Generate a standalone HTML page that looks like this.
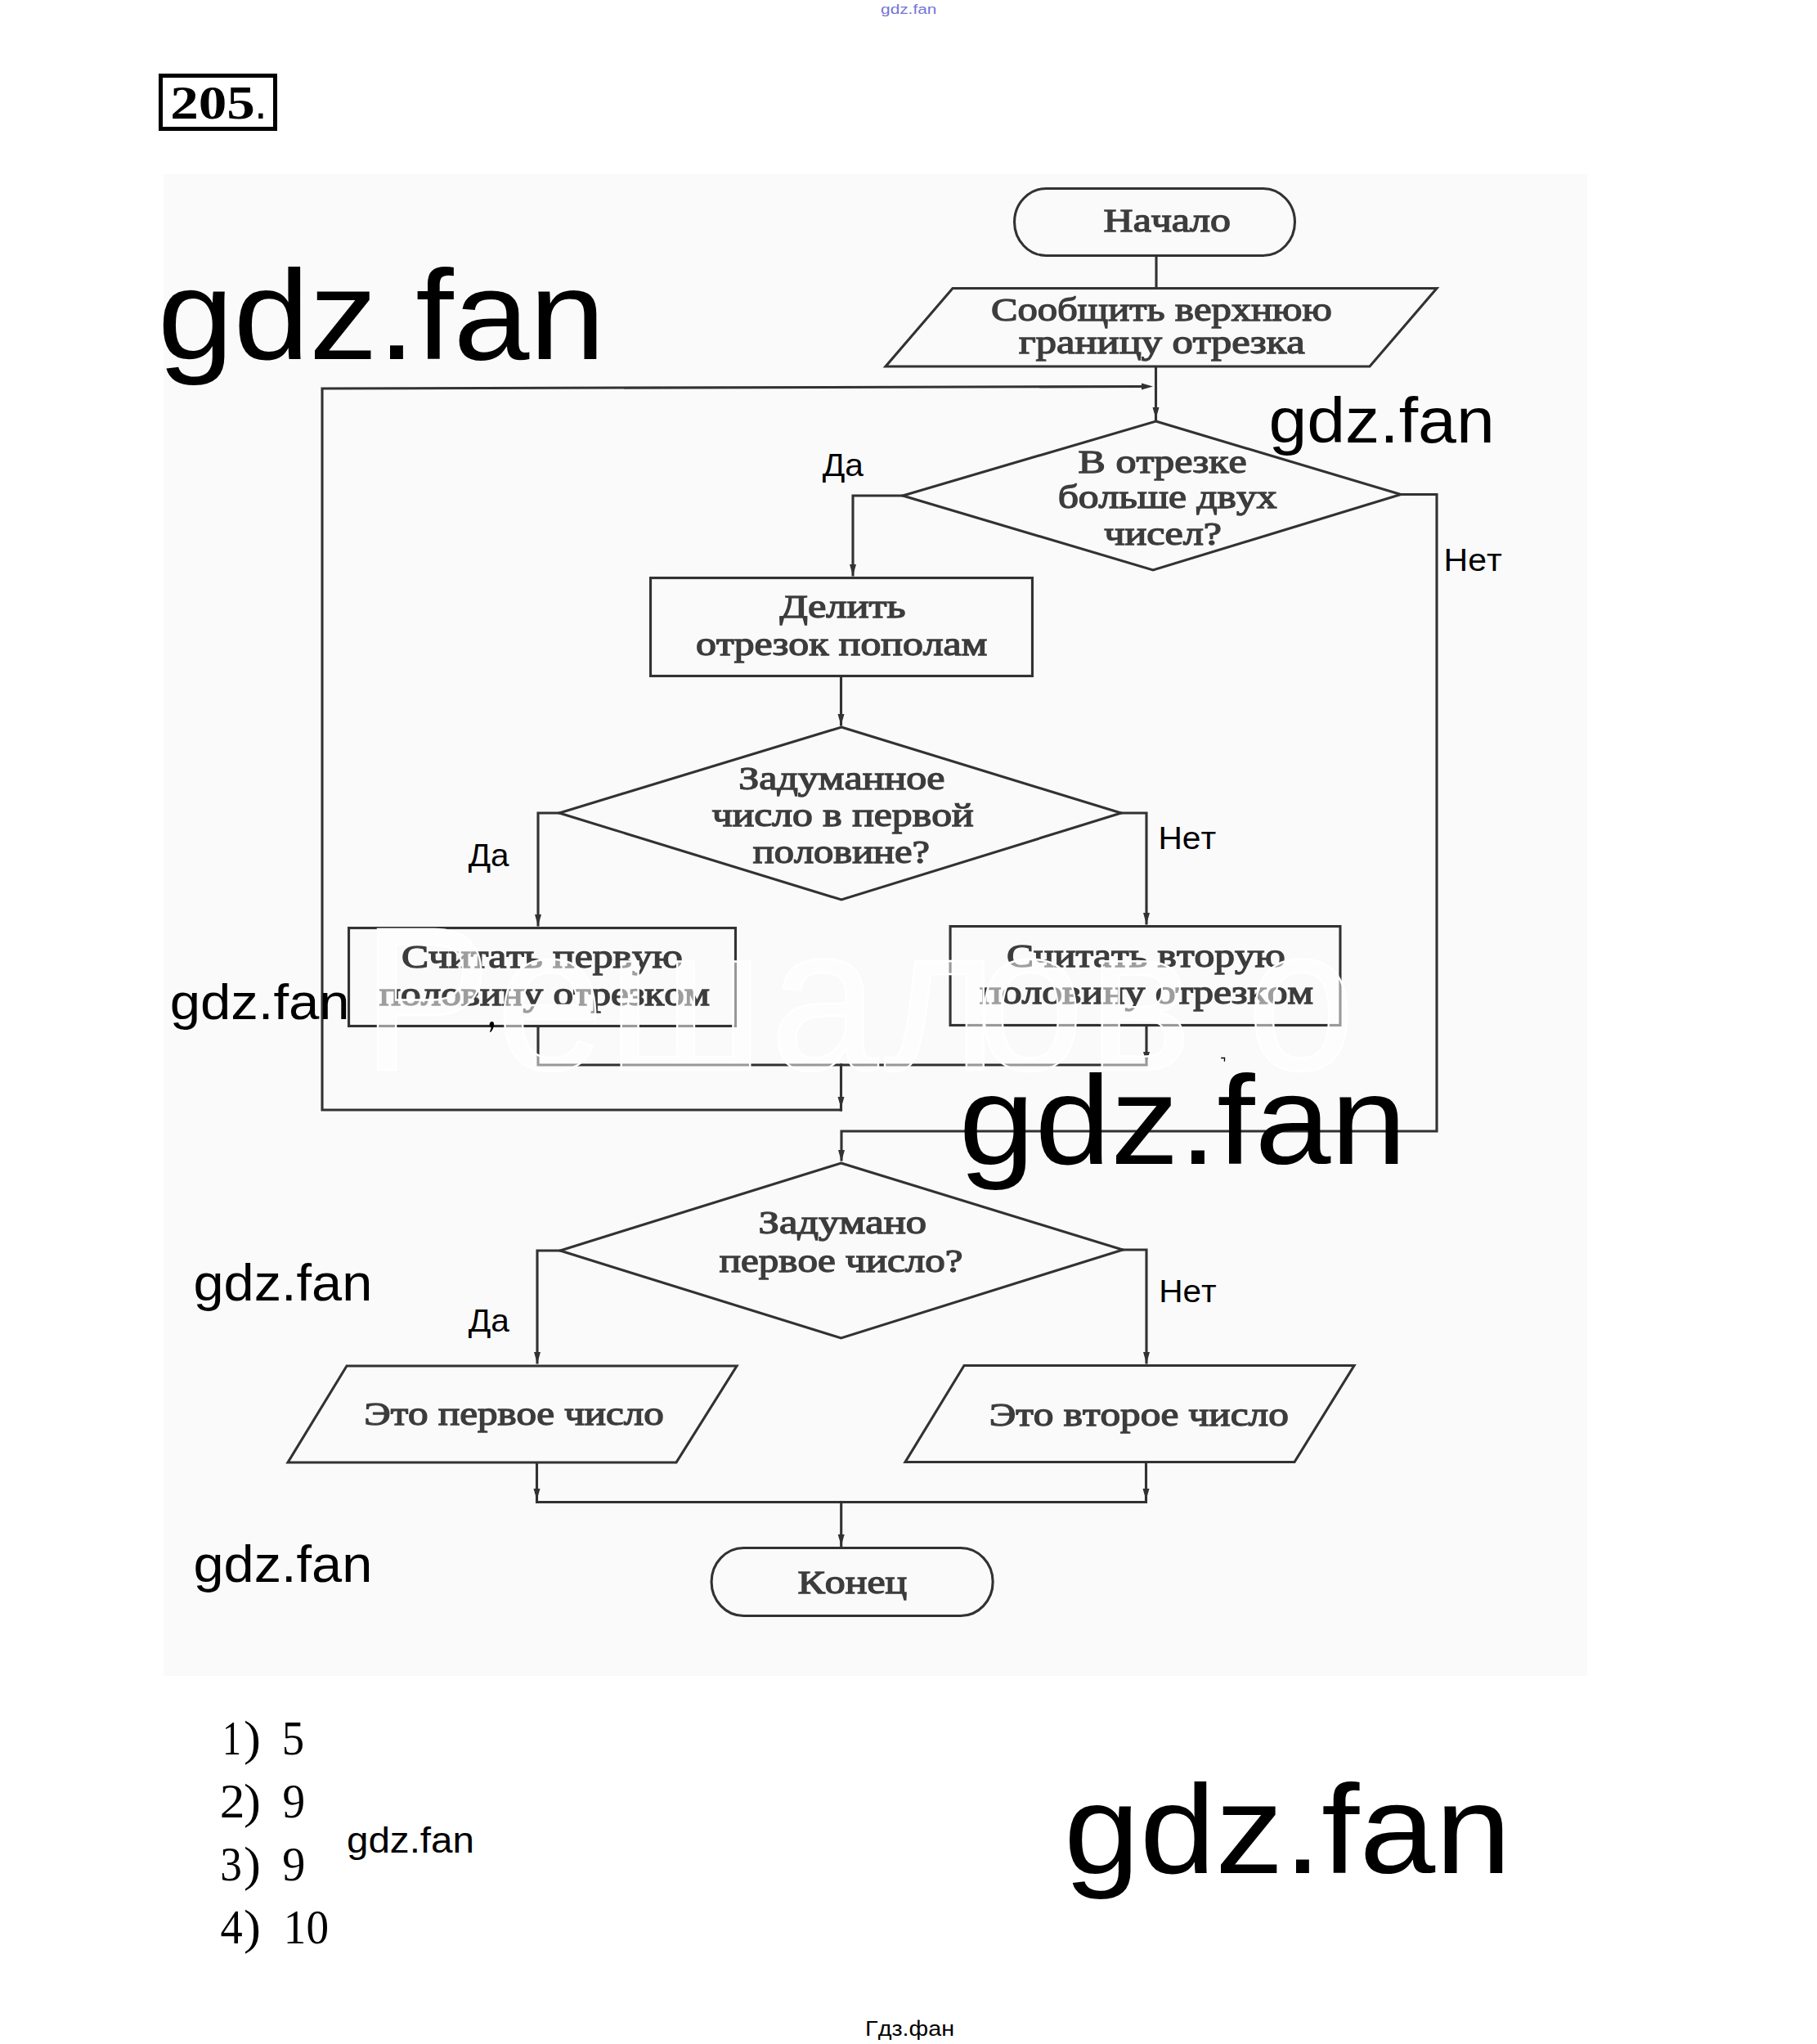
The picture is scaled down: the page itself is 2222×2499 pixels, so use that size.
<!DOCTYPE html>
<html><head><meta charset="utf-8"><style>
html,body{margin:0;padding:0;background:#fff;}
svg{display:block;}
text{font-kerning:none;}
</style></head><body>
<svg width="2222" height="2499" viewBox="0 0 2222 2499">
<defs><filter id="scan" filterUnits="userSpaceOnUse" x="0" y="0" width="2222" height="2499"><feGaussianBlur stdDeviation="0.7"/></filter></defs>
<rect width="2222" height="2499" fill="#fff"/>
<rect x="200" y="213" width="1741" height="1836" fill="#fafafa"/>
<g filter="url(#scan)">
<rect x="1240.55" y="230.55" width="342.9000000000001" height="81.89999999999998" rx="38.90249999999999" ry="40.94999999999999" fill="none" stroke="#303030" stroke-width="3.1"/>
<text x="1349.63" y="283.00" font-family='"Liberation Serif"' font-weight="normal" font-size="40.00" textLength="155.21" lengthAdjust="spacingAndGlyphs" fill="#3c3c3c" stroke="#3c3c3c" stroke-width="1.3">Начало</text>
<path d="M1414,314 L1414,351" fill="none" stroke="#303030" stroke-width="3.1" stroke-linejoin="miter" stroke-linecap="square"/>
<path d="M1165,352.5 L1757,352.5 L1675,448 L1083,448 Z" fill="none" stroke="#303030" stroke-width="3.1" stroke-linejoin="miter"/>
<text x="1212.05" y="392.00" font-family='"Liberation Serif"' font-weight="normal" font-size="40.00" textLength="416.74" lengthAdjust="spacingAndGlyphs" fill="#3c3c3c" stroke="#3c3c3c" stroke-width="1.3">Сообщить верхнюю</text>
<text x="1246.12" y="432.00" font-family='"Liberation Serif"' font-weight="normal" font-size="40.00" textLength="349.52" lengthAdjust="spacingAndGlyphs" fill="#3c3c3c" stroke="#3c3c3c" stroke-width="1.3">границу отрезка</text>
<path d="M1413.5,449 L1413.5,513" fill="none" stroke="#303030" stroke-width="3.1" stroke-linejoin="miter" stroke-linecap="square"/>
<path d="M1409.5,498 L1417.5,498 L1413.5,512 Z" fill="#303030"/>
<path d="M1028.5,1357 L394,1357 L394,475 L1400,472.5" fill="none" stroke="#303030" stroke-width="3.1" stroke-linejoin="miter" stroke-linecap="square"/>
<path d="M1396,468.5 L1396,476.5 L1410,472.5 Z" fill="#303030"/>
<path d="M1413.5,515 L1713,604.5 L1410,697 L1104,606 Z" fill="none" stroke="#303030" stroke-width="3.1" stroke-linejoin="miter"/>
<text x="1318.63" y="578.00" font-family='"Liberation Serif"' font-weight="normal" font-size="40.00" textLength="206.01" lengthAdjust="spacingAndGlyphs" fill="#3c3c3c" stroke="#3c3c3c" stroke-width="1.3">В отрезке</text>
<text x="1293.65" y="621.00" font-family='"Liberation Serif"' font-weight="normal" font-size="40.00" textLength="267.91" lengthAdjust="spacingAndGlyphs" fill="#3c3c3c" stroke="#3c3c3c" stroke-width="1.3">больше двух</text>
<text x="1350.25" y="666.00" font-family='"Liberation Serif"' font-weight="normal" font-size="40.00" textLength="143.82" lengthAdjust="spacingAndGlyphs" fill="#3c3c3c" stroke="#3c3c3c" stroke-width="1.3">чисел?</text>
<path d="M1104,606 L1043,606 L1043,703" fill="none" stroke="#303030" stroke-width="3.1" stroke-linejoin="miter" stroke-linecap="square"/>
<path d="M1039.0,690 L1047.0,690 L1043,704 Z" fill="#303030"/>
<path d="M1713,604.5 L1757,604.5 L1757,1383 L1029,1383 L1029,1418" fill="none" stroke="#303030" stroke-width="3.1" stroke-linejoin="miter" stroke-linecap="square"/>
<path d="M1025.0,1406 L1033.0,1406 L1029,1420 Z" fill="#303030"/>
<rect x="795.55" y="706.55" width="466.9" height="119.9" fill="none" stroke="#303030" stroke-width="3.1"/>
<text x="953.62" y="755.00" font-family='"Liberation Serif"' font-weight="normal" font-size="40.00" textLength="153.93" lengthAdjust="spacingAndGlyphs" fill="#3c3c3c" stroke="#3c3c3c" stroke-width="1.3">Делить</text>
<text x="851.13" y="801.00" font-family='"Liberation Serif"' font-weight="normal" font-size="40.00" textLength="356.00" lengthAdjust="spacingAndGlyphs" fill="#3c3c3c" stroke="#3c3c3c" stroke-width="1.3">отрезок пополам</text>
<path d="M1028.5,828 L1028.5,886" fill="none" stroke="#303030" stroke-width="3.1" stroke-linejoin="miter" stroke-linecap="square"/>
<path d="M1024.5,873 L1032.5,873 L1028.5,887 Z" fill="#303030"/>
<path d="M1029,889 L1371,994 L1029,1100 L684,994 Z" fill="none" stroke="#303030" stroke-width="3.1" stroke-linejoin="miter"/>
<text x="903.23" y="965.00" font-family='"Liberation Serif"' font-weight="normal" font-size="40.00" textLength="252.10" lengthAdjust="spacingAndGlyphs" fill="#3c3c3c" stroke="#3c3c3c" stroke-width="1.3">Задуманное</text>
<text x="870.65" y="1010.00" font-family='"Liberation Serif"' font-weight="normal" font-size="40.00" textLength="319.94" lengthAdjust="spacingAndGlyphs" fill="#3c3c3c" stroke="#3c3c3c" stroke-width="1.3">число в первой</text>
<text x="920.75" y="1055.00" font-family='"Liberation Serif"' font-weight="normal" font-size="40.00" textLength="216.28" lengthAdjust="spacingAndGlyphs" fill="#3c3c3c" stroke="#3c3c3c" stroke-width="1.3">половине?</text>
<path d="M684,994 L658,994 L658,1131" fill="none" stroke="#303030" stroke-width="3.1" stroke-linejoin="miter" stroke-linecap="square"/>
<path d="M654.0,1118 L662.0,1118 L658,1132 Z" fill="#303030"/>
<path d="M1371,994 L1402,994 L1402,1129" fill="none" stroke="#303030" stroke-width="3.1" stroke-linejoin="miter" stroke-linecap="square"/>
<path d="M1398.0,1116 L1406.0,1116 L1402,1130 Z" fill="#303030"/>
<rect x="426.55" y="1134.55" width="472.9" height="119.9" fill="none" stroke="#303030" stroke-width="3.1"/>
<text x="491.01" y="1182.50" font-family='"Liberation Serif"' font-weight="normal" font-size="40.00" textLength="343.84" lengthAdjust="spacingAndGlyphs" fill="#3c3c3c" stroke="#3c3c3c" stroke-width="1.3">Считать первую</text>
<text x="463.74" y="1229.00" font-family='"Liberation Serif"' font-weight="normal" font-size="40.00" textLength="404.23" lengthAdjust="spacingAndGlyphs" fill="#3c3c3c" stroke="#3c3c3c" stroke-width="1.3">половину отрезком</text>
<rect x="1162.05" y="1132.55" width="476.9" height="120.9" fill="none" stroke="#303030" stroke-width="3.1"/>
<text x="1231.02" y="1182.00" font-family='"Liberation Serif"' font-weight="normal" font-size="40.00" textLength="340.85" lengthAdjust="spacingAndGlyphs" fill="#3c3c3c" stroke="#3c3c3c" stroke-width="1.3">Считать вторую</text>
<text x="1198.13" y="1227.00" font-family='"Liberation Serif"' font-weight="normal" font-size="40.00" textLength="407.75" lengthAdjust="spacingAndGlyphs" fill="#3c3c3c" stroke="#3c3c3c" stroke-width="1.3">половину отрезком</text>
<path d="M658,1256 L658,1302 L1402,1302 L1402,1255" fill="none" stroke="#303030" stroke-width="3.1" stroke-linejoin="miter" stroke-linecap="square"/>
<path d="M1398.0,1286 L1406.0,1286 L1402,1300 Z" fill="#303030"/>
<path d="M1028.5,1302 L1028.5,1357" fill="none" stroke="#303030" stroke-width="3.1" stroke-linejoin="miter" stroke-linecap="square"/>
<path d="M1024.5,1341 L1032.5,1341 L1028.5,1355 Z" fill="#303030"/>
<path d="M1028.5,1422 L1373,1528 L1028.5,1636 L685,1529 Z" fill="none" stroke="#303030" stroke-width="3.1" stroke-linejoin="miter"/>
<text x="927.60" y="1508.00" font-family='"Liberation Serif"' font-weight="normal" font-size="40.00" textLength="205.32" lengthAdjust="spacingAndGlyphs" fill="#3c3c3c" stroke="#3c3c3c" stroke-width="1.3">Задумано</text>
<text x="879.84" y="1554.70" font-family='"Liberation Serif"' font-weight="normal" font-size="40.00" textLength="297.64" lengthAdjust="spacingAndGlyphs" fill="#3c3c3c" stroke="#3c3c3c" stroke-width="1.3">первое число?</text>
<path d="M685,1529 L657,1529 L657,1666" fill="none" stroke="#303030" stroke-width="3.1" stroke-linejoin="miter" stroke-linecap="square"/>
<path d="M653.0,1653 L661.0,1653 L657,1667 Z" fill="#303030"/>
<path d="M1373,1528 L1402,1528 L1402,1666" fill="none" stroke="#303030" stroke-width="3.1" stroke-linejoin="miter" stroke-linecap="square"/>
<path d="M1398.0,1653 L1406.0,1653 L1402,1667 Z" fill="#303030"/>
<path d="M424,1670 L901,1670 L827,1788 L352,1788 Z" fill="none" stroke="#303030" stroke-width="3.1" stroke-linejoin="miter"/>
<text x="445.30" y="1742.00" font-family='"Liberation Serif"' font-weight="normal" font-size="40.00" textLength="366.57" lengthAdjust="spacingAndGlyphs" fill="#3c3c3c" stroke="#3c3c3c" stroke-width="1.3">Это первое число</text>
<path d="M1179,1669.5 L1656,1669.5 L1583,1787.5 L1107,1787.5 Z" fill="none" stroke="#303030" stroke-width="3.1" stroke-linejoin="miter"/>
<text x="1209.69" y="1742.60" font-family='"Liberation Serif"' font-weight="normal" font-size="40.00" textLength="366.10" lengthAdjust="spacingAndGlyphs" fill="#3c3c3c" stroke="#3c3c3c" stroke-width="1.3">Это второе число</text>
<path d="M656.5,1789 L656.5,1836.5 L1401.5,1836.5 L1401.5,1788" fill="none" stroke="#303030" stroke-width="3.1" stroke-linejoin="miter" stroke-linecap="square"/>
<path d="M652.5,1820 L660.5,1820 L656.5,1834 Z" fill="#303030"/>
<path d="M1397.5,1820 L1405.5,1820 L1401.5,1834 Z" fill="#303030"/>
<path d="M1028.7,1836.5 L1028.7,1890" fill="none" stroke="#303030" stroke-width="3.1" stroke-linejoin="miter" stroke-linecap="square"/>
<path d="M1024.7,1876 L1032.7,1876 L1028.7,1890 Z" fill="#303030"/>
<rect x="870.05" y="1892.55" width="344.10000000000014" height="82.90000000000009" rx="39.37750000000004" ry="41.450000000000045" fill="none" stroke="#303030" stroke-width="3.1"/>
<text x="975.63" y="1948.00" font-family='"Liberation Serif"' font-weight="normal" font-size="40.00" textLength="133.55" lengthAdjust="spacingAndGlyphs" fill="#3c3c3c" stroke="#3c3c3c" stroke-width="1.3">Конец</text>
</g>
<text transform="scale(0.95,1)" x="465.7 638.8 782.5 991.5 1137.7 1256.7 1401.4 1605.2" y="1308" font-family='"Liberation Sans"' font-size="250" fill="#fff" fill-opacity="0.5" stroke="#fff" stroke-width="2.4">Решалово</text>
<text x="1005.69" y="582.00" font-family='"Liberation Sans"' font-weight="normal" font-size="39.00" textLength="50.24" lengthAdjust="spacingAndGlyphs" fill="#000" >Да</text>
<text x="1765.62" y="697.60" font-family='"Liberation Sans"' font-weight="normal" font-size="39.00" textLength="71.15" lengthAdjust="spacingAndGlyphs" fill="#000" >Нет</text>
<text x="572.70" y="1058.70" font-family='"Liberation Sans"' font-weight="normal" font-size="39.00" textLength="49.84" lengthAdjust="spacingAndGlyphs" fill="#000" >Да</text>
<text x="1416.44" y="1038.00" font-family='"Liberation Sans"' font-weight="normal" font-size="39.00" textLength="70.73" lengthAdjust="spacingAndGlyphs" fill="#000" >Нет</text>
<text x="572.69" y="1628.00" font-family='"Liberation Sans"' font-weight="normal" font-size="39.00" textLength="50.24" lengthAdjust="spacingAndGlyphs" fill="#000" >Да</text>
<text x="1417.15" y="1592.00" font-family='"Liberation Sans"' font-weight="normal" font-size="39.00" textLength="70.52" lengthAdjust="spacingAndGlyphs" fill="#000" >Нет</text>
<path d="M601.6,1249 C603.4,1249 604.2,1250.6 604.1,1252.6 C604,1255.8 602.4,1259.4 600.3,1261.8 L598.8,1261.4 C599.8,1259.6 600.6,1257.6 600.6,1256 C599.4,1255.4 598.6,1254.3 598.6,1252.8 C598.6,1250.6 599.8,1249 601.6,1249 Z" fill="#000"/>
<path d="M1493.2,1293.5 L1497.6,1293.5 L1497.4,1297.8" fill="none" stroke="#000" stroke-width="1.3"/>
<text x="192.71" y="438.90" font-family='"Liberation Sans"' font-weight="normal" font-size="155.45" textLength="547.49" lengthAdjust="spacingAndGlyphs" fill="#000" >gdz.fan</text>
<text x="1551.42" y="541.00" font-family='"Liberation Sans"' font-weight="normal" font-size="77.24" textLength="276.38" lengthAdjust="spacingAndGlyphs" fill="#000" >gdz.fan</text>
<text x="207.65" y="1245.90" font-family='"Liberation Sans"' font-weight="normal" font-size="61.66" textLength="219.97" lengthAdjust="spacingAndGlyphs" fill="#000" >gdz.fan</text>
<text x="1172.61" y="1422.70" font-family='"Liberation Sans"' font-weight="normal" font-size="154.90" textLength="547.59" lengthAdjust="spacingAndGlyphs" fill="#000" >gdz.fan</text>
<text x="236.46" y="1590.10" font-family='"Liberation Sans"' font-weight="normal" font-size="62.21" textLength="218.83" lengthAdjust="spacingAndGlyphs" fill="#000" >gdz.fan</text>
<text x="236.46" y="1934.10" font-family='"Liberation Sans"' font-weight="normal" font-size="62.21" textLength="218.83" lengthAdjust="spacingAndGlyphs" fill="#000" >gdz.fan</text>
<text x="423.98" y="2265.00" font-family='"Liberation Sans"' font-weight="normal" font-size="44.14" textLength="156.01" lengthAdjust="spacingAndGlyphs" fill="#000" >gdz.fan</text>
<text x="1300.91" y="2289.70" font-family='"Liberation Sans"' font-weight="normal" font-size="154.07" textLength="546.97" lengthAdjust="spacingAndGlyphs" fill="#000" >gdz.fan</text>
<text x="1077.12" y="16.50" font-family='"Liberation Sans"' font-weight="normal" font-size="17.10" textLength="68.19" lengthAdjust="spacingAndGlyphs" fill="#7474d8" >gdz.fan</text>
<text x="1058.13" y="2489.00" font-family='"Liberation Sans"' font-weight="normal" font-size="26.00" textLength="108.88" lengthAdjust="spacingAndGlyphs" fill="#000" >Гдз.фан</text>
<rect x="196.5" y="92.5" width="140" height="65" fill="none" stroke="#000" stroke-width="5"/>
<text x="208.26" y="144.90" font-family='"Liberation Serif"' font-weight="bold" font-size="58.00" textLength="103.63" lengthAdjust="spacingAndGlyphs" fill="#000" >205</text>
<rect x="316.2" y="138.6" width="5.3" height="6.3" fill="#000"/>
<text x="271.88" y="2145.00" font-family='"Liberation Serif"' font-weight="normal" font-size="60.00" textLength="22.98" lengthAdjust="spacingAndGlyphs" fill="#000" >1</text>
<text x="297.96" y="2145.00" font-family='"Liberation Serif"' font-weight="normal" font-size="60.00" textLength="20.95" lengthAdjust="spacingAndGlyphs" fill="#000" >)</text>
<text x="344.86" y="2145.00" font-family='"Liberation Serif"' font-weight="normal" font-size="60.00" textLength="27.33" lengthAdjust="spacingAndGlyphs" fill="#000" >5</text>
<text x="268.69" y="2221.80" font-family='"Liberation Serif"' font-weight="normal" font-size="60.00" textLength="30.68" lengthAdjust="spacingAndGlyphs" fill="#000" >2</text>
<text x="297.96" y="2221.80" font-family='"Liberation Serif"' font-weight="normal" font-size="60.00" textLength="20.95" lengthAdjust="spacingAndGlyphs" fill="#000" >)</text>
<text x="345.41" y="2221.80" font-family='"Liberation Serif"' font-weight="normal" font-size="60.00" textLength="27.60" lengthAdjust="spacingAndGlyphs" fill="#000" >9</text>
<text x="269.27" y="2299.40" font-family='"Liberation Serif"' font-weight="normal" font-size="60.00" textLength="26.67" lengthAdjust="spacingAndGlyphs" fill="#000" >3</text>
<text x="297.96" y="2299.40" font-family='"Liberation Serif"' font-weight="normal" font-size="60.00" textLength="20.95" lengthAdjust="spacingAndGlyphs" fill="#000" >)</text>
<text x="345.18" y="2299.40" font-family='"Liberation Serif"' font-weight="normal" font-size="60.00" textLength="28.07" lengthAdjust="spacingAndGlyphs" fill="#000" >9</text>
<text x="269.61" y="2376.00" font-family='"Liberation Serif"' font-weight="normal" font-size="60.00" textLength="27.20" lengthAdjust="spacingAndGlyphs" fill="#000" >4</text>
<text x="297.96" y="2376.00" font-family='"Liberation Serif"' font-weight="normal" font-size="60.00" textLength="20.95" lengthAdjust="spacingAndGlyphs" fill="#000" >)</text>
<text x="346.87" y="2376.00" font-family='"Liberation Serif"' font-weight="normal" font-size="60.00" textLength="55.20" lengthAdjust="spacingAndGlyphs" fill="#000" >10</text>
</svg>
</body></html>
